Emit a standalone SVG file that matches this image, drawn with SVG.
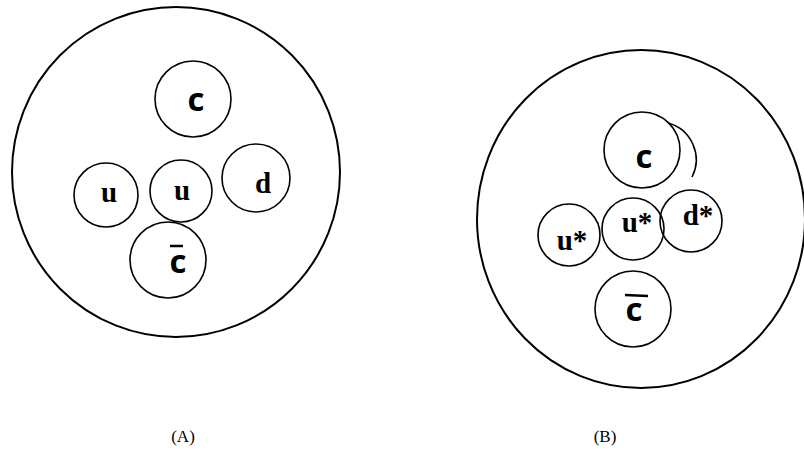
<svg xmlns="http://www.w3.org/2000/svg" width="804" height="466" viewBox="0 0 804 466">
<style>
.big{fill:none;stroke:#000;stroke-width:2}
.q{fill:none;stroke:#000;stroke-width:1.6}
.ser{font-family:"Liberation Serif","DejaVu Serif",serif;font-weight:bold;font-size:29px;text-anchor:middle;fill:#000}
.san{font-family:"Open Sans","Liberation Sans",sans-serif;font-weight:bold;font-size:33px;text-anchor:middle;fill:#000}
.cap{font-family:"Liberation Serif","Times New Roman",serif;font-size:17px;text-anchor:middle;fill:#000}
</style>
<rect width="804" height="466" fill="#fff"/>
<g id="diagramA">
<ellipse class="big" cx="176" cy="172" rx="164" ry="165"/>
<g id="A-c"><circle class="q" cx="193" cy="99" r="38"/><text class="san" x="196" y="111">c</text></g>
<g id="A-u1"><circle class="q" cx="106" cy="195" r="32"/><text class="ser" x="109" y="202">u</text></g>
<g id="A-u2"><circle class="q" cx="181" cy="191" r="31"/><text class="ser" x="182" y="200">u</text></g>
<g id="A-d"><circle class="q" cx="256" cy="178" r="34"/><text class="ser" x="263" y="193">d</text></g>
<g id="A-cbar"><circle class="q" cx="168" cy="260" r="38"/><text class="san" x="178" y="273">c</text><line x1="170" y1="246" x2="183" y2="246" stroke="#000" stroke-width="2.5"/></g>
</g>
<g id="diagramB">
<ellipse class="big" cx="641" cy="219" rx="164" ry="169"/>
<g id="B-c"><circle class="q" cx="642" cy="150" r="38"/><path class="q" d="M668 123 A38 38 0 0 1 692 177"/><text class="san" x="644" y="168">c</text></g>
<g id="B-u1"><circle class="q" cx="569" cy="235" r="31"/><text class="ser" x="572" y="250">u*</text></g>
<g id="B-u2"><circle class="q" cx="633" cy="229" r="31"/><text class="ser" x="637" y="232">u*</text></g>
<g id="B-d"><circle class="q" cx="691" cy="221" r="31"/><text class="ser" x="698" y="225">d*</text></g>
<g id="B-cbar"><circle class="q" cx="633" cy="309" r="38"/><text class="san" x="634" y="321">c</text><line x1="625" y1="295" x2="648" y2="296" stroke="#000" stroke-width="2.5"/></g>
</g>
<g id="connectors"></g>
<text class="cap" x="183" y="442">(A)</text>
<text class="cap" x="605" y="442">(B)</text>
</svg>
